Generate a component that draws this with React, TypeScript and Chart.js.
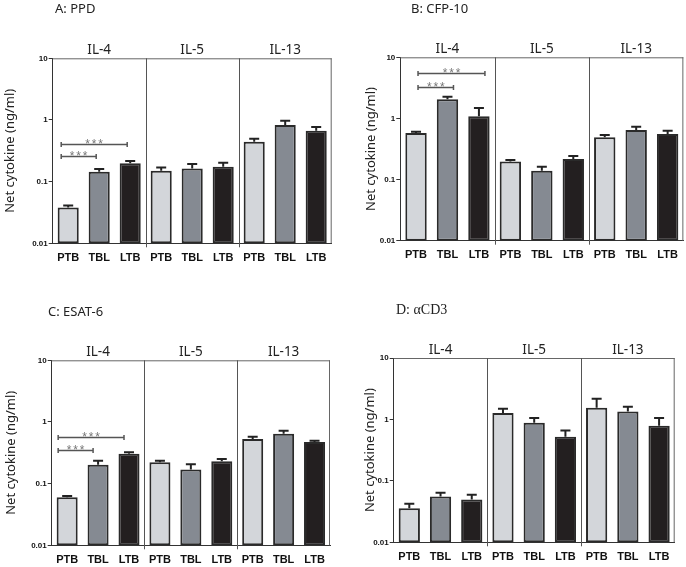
import React, { useEffect, useRef } from 'react';
import { Chart, registerables } from 'chart.js';

Chart.register(...registerables);

// ---------- data ----------
const categories = ['PTB', 'TBL', 'LTB', 'PTB', 'TBL', 'LTB', 'PTB', 'TBL', 'LTB'];
const groupLabels = ['IL-4', 'IL-5', 'IL-13'];
const yTickValues = [0.01, 0.1, 1, 10];
const yTickLabels = ['0.01', '0.1', '1', '10'];
const yAxisTitle = 'Net cytokine (ng/ml)';
const barColors = ['#d3d6da', '#858a92', '#231f20'];

const ppdMeans = [0.038, 0.145, 0.198, 0.15, 0.164, 0.175, 0.445, 0.83, 0.67];
const ppdErrTops = [0.041, 0.16, 0.216, 0.17, 0.193, 0.203, 0.497, 0.975, 0.77];
const ppdBrackets = [
  { from: 0, to: 2, value: 0.41, label: '***' },
  { from: 0, to: 1, value: 0.258, label: '***' },
];

const cfpMeans = [0.58, 2.05, 1.09, 0.198, 0.139, 0.217, 0.49, 0.647, 0.557];
const cfpErrTops = [0.605, 2.26, 1.48, 0.208, 0.162, 0.243, 0.535, 0.733, 0.63];
const cfpBrackets = [
  { from: 0, to: 2, value: 5.47, label: '***' },
  { from: 0, to: 1, value: 3.23, label: '***' },
];

const esatMeans = [0.06, 0.203, 0.306, 0.222, 0.169, 0.23, 0.53, 0.647, 0.474];
const esatErrTops = [0.063, 0.236, 0.322, 0.236, 0.206, 0.251, 0.578, 0.723, 0.498];
const esatBrackets = [
  { from: 0, to: 2, value: 0.564, label: '***' },
  { from: 0, to: 1, value: 0.347, label: '***' },
];

const cd3Means = [0.0359, 0.0556, 0.0497, 1.27, 0.883, 0.522, 1.55, 1.35, 0.789];
const cd3ErrTops = [0.0423, 0.0638, 0.0592, 1.49, 1.06, 0.662, 2.17, 1.61, 1.06];
const cd3Brackets: { from: number; to: number; value: number; label: string }[] = [];

// ---------- layout / style ----------
type Panel = {
  title: string;
  titleFont: string;
  titleX: number;
  titleY: number;
  left: number;
  top: number;
  width: number;
  height: number;
  plot: { l: number; t: number; r: number; b: number };
  yTitleX: number;
  bracketShift: number;
  means: number[];
  errTops: number[];
  brackets: { from: number; to: number; value: number; label: string }[];
};

const SANS = '"Noto Sans", "Open Sans", sans-serif';

const panels: Panel[] = [
  {
    title: 'A: PPD', titleFont: `13px ${SANS}`, titleX: 55, titleY: 9,
    left: 0, top: 0, width: 343, height: 283,
    plot: { l: 52.7, t: 58.3, r: 331.7, b: 243.3 }, yTitleX: 10, bracketShift: -7,
    means: ppdMeans, errTops: ppdErrTops, brackets: ppdBrackets,
  },
  {
    title: 'B: CFP-10', titleFont: `13px ${SANS}`, titleX: 68, titleY: 9,
    left: 343, top: 0, width: 343, height: 283,
    plot: { l: 57.3, t: 57.3, r: 341.7, b: 240.7 }, yTitleX: 28, bracketShift: 2,
    means: cfpMeans, errTops: cfpErrTops, brackets: cfpBrackets,
  },
  {
    title: 'C: ESAT-6', titleFont: `13px ${SANS}`, titleX: 48, titleY: 29,
    left: 0, top: 283, width: 343, height: 284,
    plot: { l: 51.7, t: 77.3, r: 330, b: 262.3 }, yTitleX: 11, bracketShift: -9,
    means: esatMeans, errTops: esatErrTops, brackets: esatBrackets,
  },
  {
    title: 'D: \u03B1CD3', titleFont: `14px "Liberation Serif", serif`, titleX: 53, titleY: 27,
    left: 343, top: 283, width: 343, height: 284,
    plot: { l: 50.7, t: 75, r: 331.7, b: 259.3 }, yTitleX: 27.5, bracketShift: 0,
    means: cd3Means, errTops: cd3ErrTops, brackets: cd3Brackets,
  },
];

const Y_AXIS_W = 30;
const X_AXIS_H = 25;

function PanelChart({ p }: { p: Panel }) {
  const ref = useRef<HTMLCanvasElement | null>(null);

  useEffect(() => {
    if (!ref.current) return;
    const decorations = {
      id: 'decorations',
      afterDatasetsDraw(chart: any) {
        const ctx = chart.ctx as CanvasRenderingContext2D;
        const { left, right, top, bottom } = chart.chartArea;
        const xs = chart.scales.x;
        const ys = chart.scales.y;
        const meta = chart.getDatasetMeta(0);
        ctx.save();

        // error bars
        ctx.strokeStyle = '#222';
        ctx.lineWidth = 2;
        meta.data.forEach((el: any, i: number) => {
          const yTop = el.y;
          const yErr = ys.getPixelForValue(p.errTops[i]);
          ctx.beginPath();
          ctx.moveTo(el.x, yTop);
          ctx.lineTo(el.x, yErr);
          ctx.moveTo(el.x - 5, yErr);
          ctx.lineTo(el.x + 5, yErr);
          ctx.stroke();
        });

        // frame top/right
        ctx.strokeStyle = '#666';
        ctx.lineWidth = 1;
        ctx.beginPath();
        ctx.moveTo(left, top + 0.5);
        ctx.lineTo(right, top + 0.5);
        ctx.moveTo(right - 0.5, top);
        ctx.lineTo(right - 0.5, bottom);
        ctx.stroke();

        // group separators
        ctx.strokeStyle = '#555';
        [2.5, 5.5].forEach((v) => {
          const x = Math.round(xs.getPixelForValue(v)) + 0.5;
          ctx.beginPath();
          ctx.moveTo(x, top);
          ctx.lineTo(x, bottom + 4);
          ctx.stroke();
        });

        // group labels
        ctx.fillStyle = '#222';
        ctx.font = `13.5px ${SANS}`;
        ctx.textAlign = 'center';
        ctx.textBaseline = 'alphabetic';
        groupLabels.forEach((g, gi) => {
          const x = xs.getPixelForValue(gi * 3 + 1);
          ctx.fillText(g, x, top - 4);
        });

        // significance brackets
        p.brackets.forEach((b) => {
          const x1 = xs.getPixelForValue(b.from) + p.bracketShift;
          const x2 = xs.getPixelForValue(b.to) + p.bracketShift + 4;
          const y = Math.round(ys.getPixelForValue(b.value)) + 0.5;
          ctx.strokeStyle = '#555';
          ctx.lineWidth = 1.5;
          ctx.beginPath();
          ctx.moveTo(x1, y);
          ctx.lineTo(x2, y);
          ctx.moveTo(x1, y - 2.5);
          ctx.lineTo(x1, y + 2.5);
          ctx.moveTo(x2, y - 2.5);
          ctx.lineTo(x2, y + 2.5);
          ctx.stroke();
          ctx.fillStyle = '#777';
          ctx.font = `12px "Liberation Sans", Arial, sans-serif`;
          ctx.textAlign = 'center';
          ctx.textBaseline = 'alphabetic';
          const cx = (x1 + x2) / 2;
          const chars = b.label.split('');
          chars.forEach((c, ci) => {
            ctx.fillText(c, cx + (ci - (chars.length - 1) / 2) * 6.5, y + 3);
          });
        });

        // y-axis title
        ctx.save();
        ctx.translate(p.yTitleX, (top + bottom) / 2);
        ctx.rotate(-Math.PI / 2);
        ctx.fillStyle = '#222';
        ctx.font = `13px ${SANS}`;
        ctx.textAlign = 'center';
        ctx.textBaseline = 'middle';
        ctx.fillText(yAxisTitle, 0, 0);
        ctx.restore();

        // panel title
        ctx.fillStyle = '#222';
        ctx.font = p.titleFont;
        ctx.textAlign = 'left';
        ctx.textBaseline = 'middle';
        ctx.fillText(p.title, p.titleX, p.titleY);

        ctx.restore();
      },
    };

    const chart = new Chart(ref.current, {
      type: 'bar',
      data: {
        labels: categories,
        datasets: [
          {
            data: p.means,
            backgroundColor: p.means.map((_, i) => barColors[i % 3]),
            borderColor: '#2a2a2a',
            borderWidth: 2,
            borderSkipped: false,
            barPercentage: 0.68,
            categoryPercentage: 1,
          },
        ],
      },
      options: {
        responsive: false,
        animation: false,
        devicePixelRatio: 1,
        layout: {
          padding: {
            left: p.plot.l - Y_AXIS_W,
            top: p.plot.t,
            right: p.width - p.plot.r,
            bottom: p.height - p.plot.b - X_AXIS_H,
          },
        },
        plugins: {
          legend: { display: false },
          tooltip: { enabled: false },
        },
        scales: {
          x: {
            type: 'category',
            grid: { display: true, drawOnChartArea: false, drawTicks: false },
            border: { display: true, color: '#333', width: 1 },
            ticks: {
              color: '#111',
              font: { family: '"Liberation Sans", Arial, sans-serif', size: 11, weight: 'bold' },
              padding: 8,
              maxRotation: 0,
              autoSkip: false,
            },
            afterFit: (s: any) => {
              s.height = X_AXIS_H;
            },
          },
          y: {
            type: 'logarithmic',
            min: 0.01,
            max: 10,
            grid: { display: true, drawOnChartArea: false, drawTicks: true, tickLength: 4, color: '#333' },
            border: { display: true, color: '#333', width: 1 },
            afterBuildTicks: (s: any) => {
              s.ticks = yTickValues.map((v) => ({ value: v }));
            },
            ticks: {
              color: '#111',
              font: { family: '"Liberation Sans", Arial, sans-serif', size: 8, weight: 'bold' },
              padding: 1,
              callback: (v: any) => {
                const idx = yTickValues.indexOf(Number(v));
                return idx >= 0 ? yTickLabels[idx] : '';
              },
            },
            afterFit: (s: any) => {
              s.width = Y_AXIS_W;
            },
          },
        },
      } as any,
      plugins: [decorations],
    });
    return () => chart.destroy();
  }, [p]);

  return (
    <canvas
      ref={ref}
      width={p.width}
      height={p.height}
      style={{ position: 'absolute', left: p.left, top: p.top, width: p.width, height: p.height }}
    />
  );
}

export default function App() {
  return (
    <div style={{ position: 'absolute', left: 0, top: 0, width: 686, height: 567, background: '#fff' }}>
      {panels.map((p, i) => (
        <PanelChart key={i} p={p} />
      ))}
    </div>
  );
}
